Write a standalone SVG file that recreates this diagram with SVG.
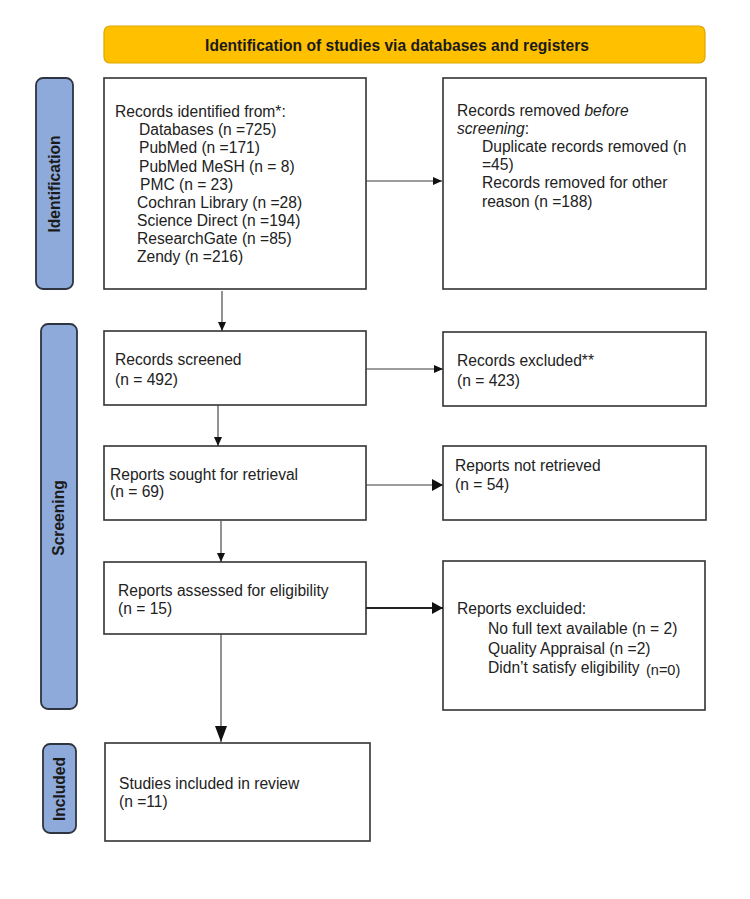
<svg xmlns="http://www.w3.org/2000/svg" width="750" height="899" viewBox="0 0 750 899">
<style>
  text { font-family: "Liberation Sans", Arial, sans-serif; fill: #222; }
  .t { font-size: 15.6px; }
  .b { font-size: 15.6px; font-weight: bold; fill: #1a1a1a; }
  .box { fill: #fff; stroke: #333; stroke-width: 1.6; }
  .side { fill: #8eaadb; stroke: #2e3440; stroke-width: 1.8; }
  .hdr { fill: #ffc000; stroke: #e0a500; stroke-width: 1.2; }
  .ln { stroke: #3a3a3a; stroke-width: 1.1; fill: none; }
  .lnb { stroke: #222; stroke-width: 2.2; fill: none; }
</style>
<defs>
  <marker id="ah" markerUnits="userSpaceOnUse" markerWidth="10" markerHeight="10" refX="9" refY="4" orient="auto">
    <path d="M0,0 L9,4 L0,8 z" fill="#111"/>
  </marker>
  <marker id="ahb" markerUnits="userSpaceOnUse" markerWidth="14" markerHeight="14" refX="11" refY="6" orient="auto">
    <path d="M0,0 L11,6 L0,12 z" fill="#111"/>
  </marker>
  <marker id="ahl" markerUnits="userSpaceOnUse" markerWidth="18" markerHeight="14" refX="16" refY="6" orient="auto">
    <path d="M0,0 L16,6 L0,12 z" fill="#111"/>
  </marker>
</defs>

<g id="header">
  <rect class="hdr" x="104" y="26" width="601" height="37" rx="6"/>
  <text class="b" x="397" y="51" text-anchor="middle">Identification of studies via databases and registers</text>
</g>

<g id="side-identification">
  <rect class="side" x="36" y="78" width="37" height="211" rx="7"/>
  <text class="b" transform="translate(60,184) rotate(-90)" text-anchor="middle">Identification</text>
</g>
<g id="side-screening">
  <rect class="side" x="41" y="324" width="36" height="385" rx="7"/>
  <text class="b" transform="translate(64,518) rotate(-90)" text-anchor="middle">Screening</text>
</g>
<g id="side-included">
  <rect class="side" x="43" y="744" width="33" height="89" rx="7"/>
  <text class="b" transform="translate(65,789) rotate(-90)" text-anchor="middle">Included</text>
</g>

<g id="records-identified">
  <rect class="box" x="104" y="78" width="262" height="211"/>
  <text class="t" x="115" y="117">Records identified from*:</text>
  <text class="t" x="139" y="135">Databases (n =725)</text>
  <text class="t" x="139" y="153">PubMed (n =171)</text>
  <text class="t" x="139" y="172">PubMed MeSH (n = 8)</text>
  <text class="t" x="140" y="190">PMC (n = 23)</text>
  <text class="t" x="137" y="208">Cochran Library (n =28)</text>
  <text class="t" x="137" y="226">Science Direct (n =194)</text>
  <text class="t" x="137" y="244">ResearchGate (n =85)</text>
  <text class="t" x="137" y="262">Zendy (n =216)</text>
</g>

<g id="records-removed">
  <rect class="box" x="443" y="78" width="263" height="211"/>
  <text class="t" x="457" y="116">Records removed <tspan font-style="italic">before</tspan></text>
  <text class="t" x="457" y="134"><tspan font-style="italic">screening</tspan>:</text>
  <text class="t" x="482" y="152">Duplicate records removed (n</text>
  <text class="t" x="482" y="170">=45)</text>
  <text class="t" x="482" y="188">Records removed for other</text>
  <text class="t" x="482" y="207">reason (n =188)</text>
</g>

<g id="records-screened">
  <rect class="box" x="104" y="331" width="262" height="74"/>
  <text class="t" x="115" y="365">Records screened</text>
  <text class="t" x="115" y="385">(n = 492)</text>
</g>

<g id="records-excluded">
  <rect class="box" x="443" y="332" width="263" height="74"/>
  <text class="t" x="457" y="366">Records excluded**</text>
  <text class="t" x="457" y="386">(n = 423)</text>
</g>

<g id="reports-sought">
  <rect class="box" x="104" y="446" width="262" height="74"/>
  <text class="t" x="110" y="480">Reports sought for retrieval</text>
  <text class="t" x="110" y="497">(n = 69)</text>
</g>

<g id="reports-not-retrieved">
  <rect class="box" x="443" y="446" width="263" height="74"/>
  <text class="t" x="455" y="471">Reports not retrieved</text>
  <text class="t" x="455" y="490">(n = 54)</text>
</g>

<g id="reports-assessed">
  <rect class="box" x="104" y="562" width="262" height="72"/>
  <text class="t" x="118" y="596">Reports assessed for eligibility</text>
  <text class="t" x="118" y="614">(n = 15)</text>
</g>

<g id="reports-excluded">
  <rect class="box" x="443" y="561" width="262" height="149"/>
  <text class="t" x="457" y="614">Reports excluided:</text>
  <text class="t" x="488" y="634">No full text available (n = 2)</text>
  <text class="t" x="488" y="654">Quality Appraisal (n =2)</text>
  <text class="t" x="488" y="673">Didn’t satisfy eligibility <tspan font-size="14.5" dx="2" dy="2">(n=0)</tspan></text>
</g>

<g id="studies-included">
  <rect class="box" x="105" y="743" width="265" height="98"/>
  <text class="t" x="119" y="789">Studies included in review</text>
  <text class="t" x="119" y="807">(n =11)</text>
</g>

<g id="connectors">
  <line class="ln" x1="366" y1="181" x2="442" y2="181" marker-end="url(#ah)"/>
  <line class="ln" x1="222" y1="291" x2="222" y2="331" marker-end="url(#ah)"/>
  <line class="ln" x1="366" y1="369" x2="443" y2="369" marker-end="url(#ah)"/>
  <line class="ln" x1="218" y1="405" x2="218" y2="446" marker-end="url(#ah)"/>
  <line class="ln" x1="366" y1="485" x2="443" y2="485" stroke-width="1.5" marker-end="url(#ahb)"/>
  <line class="ln" x1="221" y1="521" x2="221" y2="562" marker-end="url(#ah)"/>
  <line class="lnb" x1="366" y1="608" x2="443" y2="608" marker-end="url(#ahb)"/>
  <line class="ln" x1="221" y1="634" x2="221" y2="742" marker-end="url(#ahl)"/>
</g>
</svg>
